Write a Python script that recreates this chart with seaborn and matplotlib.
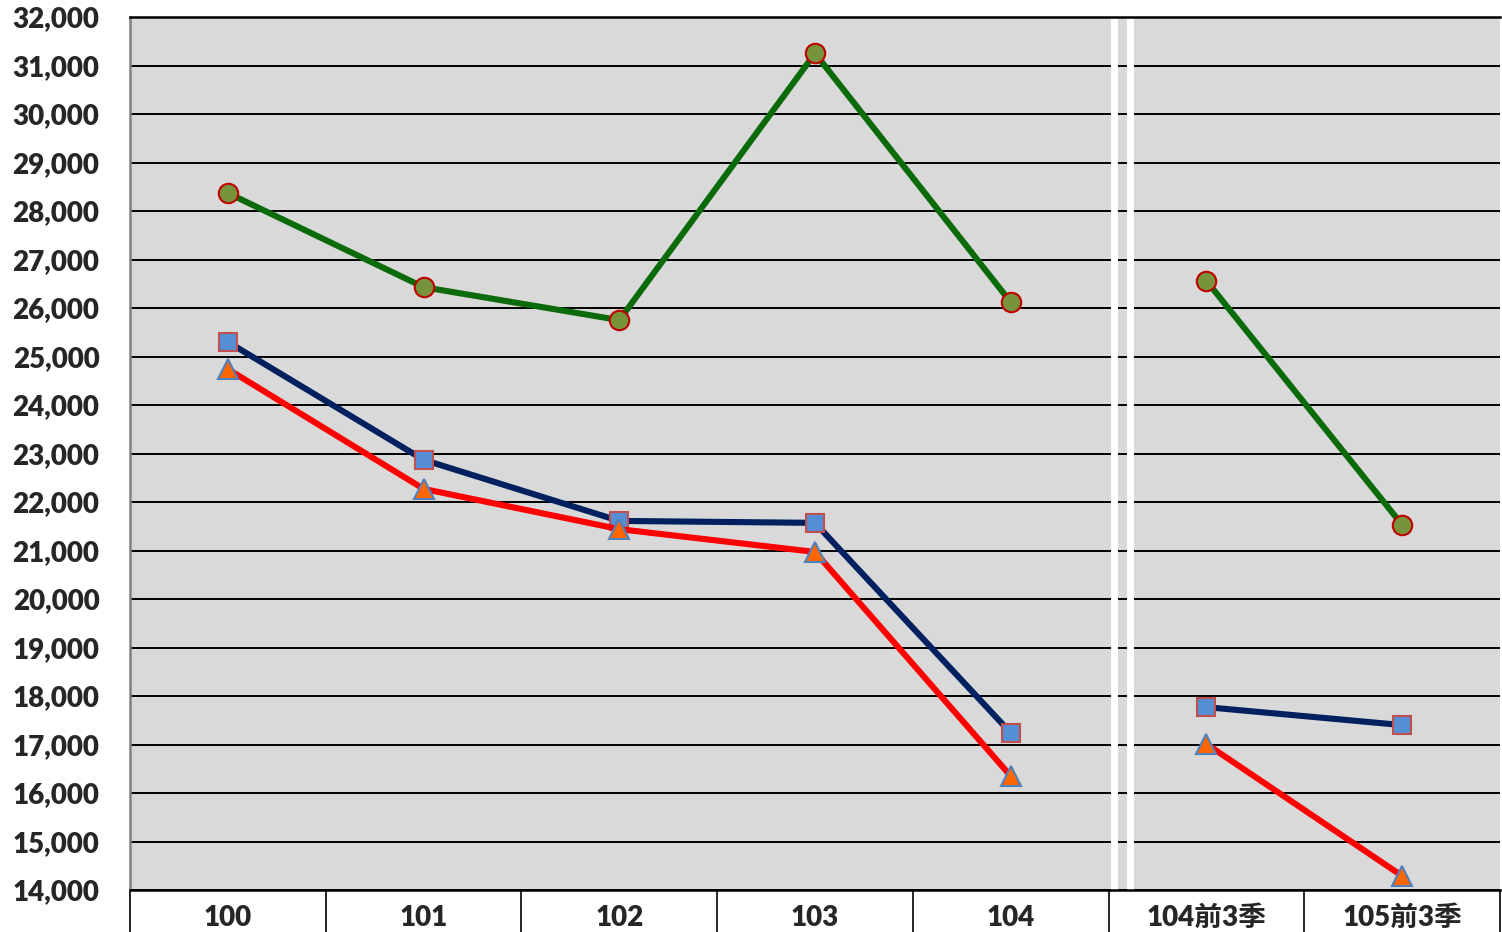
import matplotlib
matplotlib.use("Agg")
import matplotlib.pyplot as plt
import seaborn as sns
import pandas as pd
import numpy as np
from matplotlib.ticker import FuncFormatter, FixedLocator

categories = ["100", "101", "102", "103", "104", "104前3季", "105前3季"]
segment = [0, 0, 0, 0, 0, 1, 1]
green_vals = [28370, 26430, 25750, 31250, 26120, 26560, 21530]
blue_vals = [25300, 22870, 21610, 21570, 17240, 17770, 17400]
red_vals = [24740, 22270, 21440, 20970, 16350, 17010, 14290]

sns.set_theme(style="white")
plt.rcParams['font.family'] = ['Lato', 'Noto Sans CJK TC', 'DejaVu Sans']

fig = plt.figure(figsize=(15.02, 9.32), dpi=100)
ax = fig.add_axes([130/1502, 42/932, 1370/1502, 873/932])
ax.set_facecolor("#D9D9D9")

rows = []
for name, vals in [("green", green_vals), ("blue", blue_vals), ("red", red_vals)]:
    for i, v in enumerate(vals):
        rows.append({"series": name, "x": i, "value": v, "seg": segment[i]})
df = pd.DataFrame(rows)

styles = {
    "green": dict(color="#0B6B0B", marker="o", mfc="#77933C", mec="#C00000", ms=14),
    "blue": dict(color="#002060", marker="s", mfc="#558ED5", mec="#C0504D", ms=13.5),
    "red": dict(color="#FF0000", marker="^", mfc="#FF6600", mec="#4F81BD", ms=15),
}

for y in range(14000, 32001, 1000):
    ax.axhline(y, color="black", lw=1.4, zorder=1)

ax.axvline(4.53, color="white", lw=5, zorder=2)
ax.axvline(4.61, color="white", lw=5, zorder=2)

for name in ["green", "blue", "red"]:
    st = styles[name]
    for s in [0, 1]:
        sub = df[(df.series == name) & (df.seg == s)]
        sns.lineplot(data=sub, x="x", y="value", ax=ax, color=st["color"], lw=4.4,
                     marker=st["marker"], markersize=st["ms"], markerfacecolor=st["mfc"],
                     markeredgecolor=st["mec"], markeredgewidth=1.5, zorder=5,
                     estimator=None, sort=False, legend=False)

ax.set_xlim(-0.5, 6.5)
ax.set_ylim(14000, 32000)
ax.set_xticks(range(len(categories)))
ax.set_xticklabels(categories, fontsize=20, fontweight="heavy")
ax.xaxis.set_minor_locator(FixedLocator(np.arange(-0.5, 6.6, 1)))
ax.tick_params(axis="x", which="major", length=0, pad=11)
ax.tick_params(axis="x", which="minor", length=32, width=1.2, color="black", direction="out", bottom=True)
ax.set_yticks(range(14000, 32001, 1000))
ax.yaxis.set_major_formatter(FuncFormatter(lambda v, p: f"{int(v):,}"))
ax.tick_params(axis="y", length=0, pad=22, labelsize=20)
for lbl in ax.get_yticklabels():
    lbl.set_fontweight("heavy")
ax.set_xlabel("")
ax.set_ylabel("")

for side in ["top", "bottom"]:
    ax.spines[side].set_color("black")
    ax.spines[side].set_linewidth(1.8)
ax.spines["left"].set_color("#808080")
ax.spines["left"].set_linewidth(1.8)
ax.spines["right"].set_visible(False)

fig.savefig("out.png", dpi=100, facecolor="white")
